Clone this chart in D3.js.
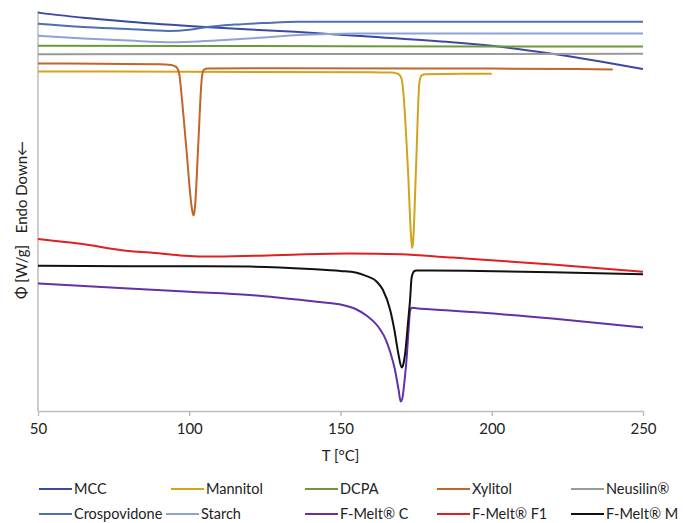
<!DOCTYPE html>
<html>
<head>
<meta charset="utf-8">
<script src="https://cdn.jsdelivr.net/npm/d3@7"></script>
<style>
  body { margin: 0; background: #fff; }
  text { font-family: Lato, "Open Sans", sans-serif; fill: #222; }
</style>
</head>
<body>
<div id="chart"></div>
<script>
// DSC curves, [T in °C, shifted heat flow (arbitrary units)]
const mcc = [[50,99.6],[65,98.3],[80,97.3],[105,96.0],[135,94.8],[155,93.8],[185,92.3],[200,91.3],[220,89.3],[235,87.5],[250,85.5]];
const crospovidone = [[50,96.8],[65,96.0],[80,95.5],[93,95.0],[100,95.3],[106,96.0],[115,96.6],[125,97.0],[136,97.3],[160,97.3],[250,97.3]];
const starch = [[50,93.8],[65,93.1],[80,92.6],[94,92.2],[113,92.8],[125,93.4],[136,94.0],[156,94.4],[250,94.4]];
const dcpa = [[50,91.3],[150,91.2],[250,91.1]];
const neusilin = [[50,89.2],[250,89.3]];
const xylitol = [[50,86.9],[70,86.8],[90,86.7],[94,86.5],[95.5,86.1],[96.3,85.3],[96.8,83.8],[97.2,81.0],[99,66.0],[100.8,51.0],[101.2,49.3],[101.4,48.9],[101.6,49.3],[101.9,51.0],[103,67.0],[104.1,82.8],[104.5,84.8],[105,85.4],[106,85.6],[130,85.7],[200,85.6],[240,85.4]];
const mannitol = [[50,84.9],[100,84.8],[160,84.7],[167,84.6],[168.5,84.4],[169.5,84.0],[170.2,83.0],[170.6,81.0],[172.3,60.3],[173.4,42.8],[173.7,40.8],[174.0,42.3],[175,61.5],[176,81.5],[176.4,83.3],[177,84.0],[178,84.2],[190,84.3],[200,84.3]];
const fmeltF1 = [[50,43.0],[64,41.8],[80,40.0],[87,39.6],[97,38.9],[109,38.6],[131,39.0],[153,39.4],[170,39.2],[186,38.4],[196,37.9],[220,36.6],[250,34.8]];
const fmeltM = [[50,36.3],[80,36.2],[100,36.2],[120,36.1],[140,35.5],[150,35.0],[155,34.6],[158,33.9],[162,32.3],[164,30.3],[166.4,25.3],[167.8,20.3],[169.2,14.0],[170.2,10.9],[170.6,11.3],[171.3,14.0],[172.4,22.8],[173,27.8],[173.5,33.3],[174.3,34.9],[175,35.1],[180,35.1],[196,35.0],[220,34.7],[250,34.2]];
const fmeltC = [[50,31.9],[80,30.6],[100,29.8],[120,29.0],[142,27.3],[150,26.6],[155,25.5],[158.7,23.8],[163,20.5],[165,17.8],[166.4,14.8],[168,10.3],[169.2,5.3],[169.9,2.4],[170.4,3.0],[171.2,7.8],[171.9,13.5],[172.5,20.3],[173,25.0],[173.6,25.8],[175,25.7],[186,25.1],[196,24.6],[220,23.1],[250,20.9]];

const xTicks = [50, 100, 150, 200, 250];

// legend order (row by row, as in the original)
const series = [
  {name: "MCC", data: mcc, color: "#3a4aa2"},
  {name: "Mannitol", data: mannitol, color: "#d4a31c"},
  {name: "DCPA", data: dcpa, color: "#6b9a3c"},
  {name: "Xylitol", data: xylitol, color: "#c0652c"},
  {name: "Neusilin®", data: neusilin, color: "#9a9a9a"},
  {name: "Crospovidone", data: crospovidone, color: "#4c6fb6"},
  {name: "Starch", data: starch, color: "#8fa2d8"},
  {name: "F-Melt® C", data: fmeltC, color: "#6230a8"},
  {name: "F-Melt® F1", data: fmeltF1, color: "#e02020"},
  {name: "F-Melt® M", data: fmeltM, color: "#111111"}
];

const width = 685, height = 523;
const margin = {left: 38, right: 42, top: 11, bottom: 112};

const svg = d3.select("#chart").append("svg")
  .attr("width", width)
  .attr("height", height);

const xScale = d3.scaleLinear()
  .domain([50, 250])
  .range([margin.left, width - margin.right]);

const yScale = d3.scaleLinear()
  .domain([0, 100])
  .range([height - margin.bottom, margin.top]);

// y axis: plain grey line, no ticks
svg.append("line")
  .attr("x1", margin.left).attr("x2", margin.left)
  .attr("y1", margin.top).attr("y2", height - margin.bottom)
  .attr("stroke", "#bdbdbd")
  .attr("stroke-width", 1.5);

// x axis
const xAxis = svg.append("g")
  .attr("transform", "translate(0," + (height - margin.bottom) + ")")
  .call(d3.axisBottom(xScale).tickValues(xTicks).tickSize(5).tickPadding(7).tickSizeOuter(0));
xAxis.select(".domain").attr("stroke", "#bdbdbd").attr("stroke-width", 1.5);
xAxis.selectAll(".tick line").attr("stroke", "#bdbdbd").attr("stroke-width", 1.5);
xAxis.selectAll(".tick text")
  .attr("font-family", "Lato, sans-serif")
  .attr("font-size", 15)
  .attr("fill", "#222");

// curves
const line = d3.line()
  .x(d => xScale(d[0]))
  .y(d => yScale(d[1]))
  .curve(d3.curveMonotoneX);

svg.selectAll(".curve")
  .data(series)
  .enter().append("path")
  .attr("class", "curve")
  .attr("d", d => line(d.data))
  .attr("fill", "none")
  .attr("stroke", d => d.color)
  .attr("stroke-width", 2)
  .attr("stroke-linejoin", "round");

// axis titles
svg.append("text")
  .attr("text-anchor", "middle")
  .attr("x", (xScale(50) + xScale(250)) / 2)
  .attr("y", 461)
  .attr("font-size", 15)
  .text("T [°C]");

svg.append("text")
  .attr("text-anchor", "middle")
  .attr("transform", "translate(27,220)rotate(-90)")
  .attr("font-size", 15)
  .style("white-space", "pre")
  .text("Φ [W/g]   Endo Down←");

// legend, two rows of five
const legendX = [[39, 171, 305, 437, 571], [39, 166, 305, 437, 571]];
const legendY = [489, 514];

const legend = svg.selectAll(".legend")
  .data(series)
  .enter().append("g")
  .attr("class", "legend")
  .attr("transform", (d, i) => {
    let row = Math.floor(i / 5), col = i % 5;
    return "translate(" + legendX[row][col] + "," + legendY[row] + ")";
  });

legend.append("line")
  .attr("x1", 0).attr("x2", 33)
  .attr("y1", 0).attr("y2", 0)
  .attr("stroke", d => d.color)
  .attr("stroke-width", 2);

legend.append("text")
  .attr("x", 35)
  .attr("y", 5)
  .attr("font-size", 14.5)
  .text(d => d.name);
</script>
</body>
</html>
